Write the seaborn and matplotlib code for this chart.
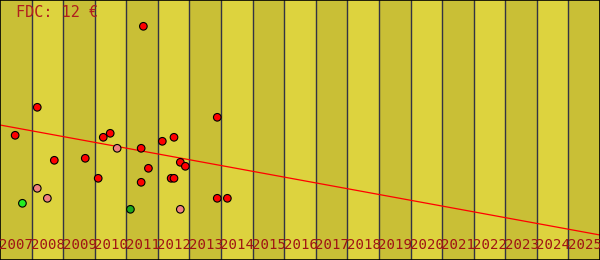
import matplotlib
matplotlib.use("Agg")
import matplotlib.pyplot as plt
import matplotlib.transforms as mtransforms
import seaborn as sns
import pandas as pd

# ---- data ----
years = list(range(2007, 2026))
year_labels = [str(y) for y in years]

point_x = [2007.48, 2007.71, 2008.18, 2008.18, 2008.50, 2008.72, 2009.70, 2010.11,
           2010.27, 2010.49, 2010.71, 2011.13, 2011.47, 2011.47, 2011.54, 2011.70,
           2012.14, 2012.42, 2012.51, 2012.51, 2012.71, 2012.71, 2012.87, 2013.88,
           2013.88, 2014.20]
point_y = [124.7, 56.7, 71.7, 152.7, 61.7, 99.7, 101.7, 81.7,
           122.7, 126.7, 111.7, 50.7, 111.7, 77.7, 233.7, 91.7,
           118.7, 81.7, 81.7, 122.7, 97.7, 50.7, 93.7, 142.7,
           61.7, 61.7]
point_kind = ["red", "lime", "salmon", "red", "salmon", "red", "red", "red",
              "red", "red", "salmon", "green", "red", "red", "red", "red",
              "red", "red", "red", "red", "red", "salmon", "red", "red",
              "red", "red"]

trend_x = [2007.0, 2026.0]
trend_y = [135.0, 25.0]

title_text = "FDC: 12 €"

palette = {"red": "#FF0000", "salmon": "#F08080", "lime": "#22EE22", "green": "#1DA81D"}

df = pd.DataFrame({"x": point_x, "y": point_y, "kind": point_kind})
trend = pd.DataFrame({"x": trend_x, "y": trend_y})

sns.set_style("white")
plt.rcParams["font.family"] = ["DejaVu Sans Mono", "DejaVu Sans"]

fig = plt.figure(figsize=(6, 2.6), dpi=100)
ax = fig.add_axes([0, 0, 1, 1])

dark = "#C9BF36"
light = "#DDD33E"
for i, y in enumerate(years):
    ax.axvspan(y, y + 1, color=dark if i % 2 == 0 else light, lw=0, zorder=0)
    if i > 0:
        ax.axvline(y, color="#333344", lw=1.0, zorder=1)

sns.lineplot(data=trend, x="x", y="y", color="#FF0000", lw=0.9, ax=ax, zorder=2)
sns.scatterplot(data=df, x="x", y="y", hue="kind", palette=palette, s=30,
                edgecolor="black", linewidth=0.8, legend=False, ax=ax, zorder=3)

trans = mtransforms.blended_transform_factory(ax.transData, ax.transAxes)
for y, lab in zip(years, year_labels):
    ax.text(y - 0.02, 0.056, lab, transform=trans, ha="left", va="center",
            fontsize=10.2, color="#A01414", zorder=4)

ax.text(16 / 600, 1 - 12 / 260, title_text, transform=ax.transAxes, ha="left",
        va="center", fontsize=11, color="#B01E1E", zorder=4)

ax.set_xlim(2007, 2026)
ax.set_ylim(0, 260)
ax.set_xticks([])
ax.set_yticks([])
ax.set_xlabel("")
ax.set_ylabel("")
for s in ax.spines.values():
    s.set_visible(True)
    s.set_color("black")
    s.set_linewidth(1.2)

fig.savefig("out.png", dpi=100)
